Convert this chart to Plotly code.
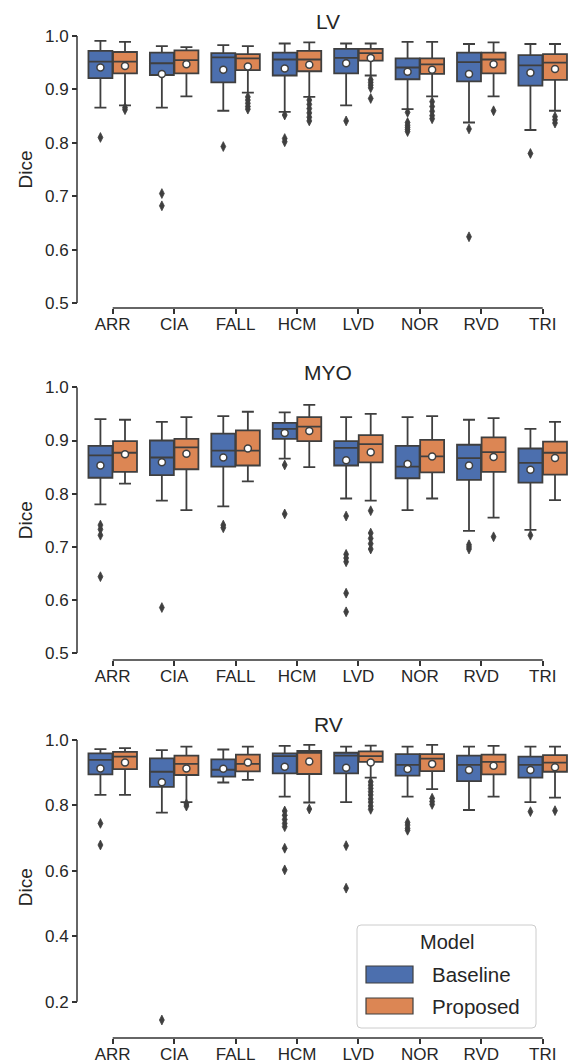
import plotly.graph_objects as go

# ---------------- data ----------------
CATEGORIES = ["ARR", "CIA", "FALL", "HCM", "LVD", "NOR", "RVD", "TRI"]
MODELS = ["Baseline", "Proposed"]

# LV
lv_base_upper = [0.991, 0.981, 0.983, 0.986, 0.986, 0.989, 0.985, 0.985]
lv_base_q3 = [0.972, 0.969, 0.968, 0.969, 0.976, 0.958, 0.969, 0.964]
lv_base_med = [0.952, 0.949, 0.960, 0.956, 0.959, 0.941, 0.951, 0.945]
lv_base_q1 = [0.921, 0.927, 0.913, 0.926, 0.930, 0.919, 0.915, 0.907]
lv_base_lower = [0.866, 0.866, 0.860, 0.858, 0.870, 0.863, 0.838, 0.824]
lv_base_mean = [0.941, 0.929, 0.937, 0.939, 0.949, 0.933, 0.929, 0.931]
lv_base_out = [[0.810], [0.705, 0.682], [0.793], [0.852, 0.808, 0.802], [0.841],
               [0.857, 0.838, 0.833, 0.829, 0.825, 0.821], [0.826, 0.624], [0.780]]

lv_prop_upper = [0.989, 0.979, 0.981, 0.988, 0.986, 0.989, 0.988, 0.985]
lv_prop_q3 = [0.970, 0.973, 0.966, 0.972, 0.976, 0.958, 0.969, 0.966]
lv_prop_med = [0.952, 0.955, 0.958, 0.956, 0.968, 0.947, 0.956, 0.950]
lv_prop_q1 = [0.930, 0.930, 0.936, 0.934, 0.954, 0.929, 0.930, 0.918]
lv_prop_lower = [0.870, 0.887, 0.894, 0.886, 0.926, 0.887, 0.887, 0.860]
lv_prop_mean = [0.944, 0.947, 0.943, 0.946, 0.959, 0.937, 0.947, 0.938]
lv_prop_out = [[0.866, 0.862], [], [0.886, 0.880, 0.874, 0.868, 0.863],
               [0.880, 0.872, 0.864, 0.856, 0.848, 0.841],
               [0.918, 0.913, 0.908, 0.903, 0.883],
               [0.877, 0.868, 0.859, 0.851, 0.845], [0.860], [0.849, 0.843, 0.837]]

# MYO
myo_base_upper = [0.940, 0.935, 0.946, 0.953, 0.944, 0.944, 0.939, 0.922]
myo_base_q3 = [0.890, 0.900, 0.913, 0.933, 0.899, 0.890, 0.892, 0.885]
myo_base_med = [0.872, 0.868, 0.881, 0.922, 0.886, 0.851, 0.867, 0.858]
myo_base_q1 = [0.830, 0.835, 0.851, 0.903, 0.853, 0.829, 0.826, 0.821]
myo_base_lower = [0.780, 0.787, 0.776, 0.866, 0.791, 0.769, 0.730, 0.732]
myo_base_mean = [0.853, 0.859, 0.868, 0.914, 0.863, 0.856, 0.853, 0.845]
myo_base_out = [[0.741, 0.733, 0.722, 0.644], [0.586], [0.741, 0.736], [0.854, 0.762],
                [0.758, 0.686, 0.679, 0.672, 0.613, 0.578], [], [0.704, 0.700, 0.696],
                [0.722]]

myo_prop_upper = [0.939, 0.944, 0.954, 0.967, 0.950, 0.946, 0.942, 0.935]
myo_prop_q3 = [0.899, 0.903, 0.919, 0.944, 0.910, 0.901, 0.906, 0.898]
myo_prop_med = [0.877, 0.887, 0.881, 0.926, 0.893, 0.870, 0.878, 0.877]
myo_prop_q1 = [0.841, 0.846, 0.853, 0.899, 0.859, 0.840, 0.841, 0.836]
myo_prop_lower = [0.819, 0.769, 0.823, 0.850, 0.787, 0.791, 0.755, 0.788]
myo_prop_mean = [0.874, 0.875, 0.885, 0.918, 0.878, 0.870, 0.869, 0.867]
myo_prop_out = [[], [], [], [], [0.768, 0.726, 0.716, 0.706, 0.696], [], [0.719], []]

# RV
rv_base_upper = [0.972, 0.969, 0.971, 0.982, 0.980, 0.980, 0.980, 0.980]
rv_base_q3 = [0.959, 0.944, 0.941, 0.959, 0.961, 0.957, 0.952, 0.949]
rv_base_med = [0.939, 0.903, 0.909, 0.951, 0.952, 0.924, 0.924, 0.924]
rv_base_q1 = [0.895, 0.857, 0.888, 0.898, 0.898, 0.891, 0.874, 0.885]
rv_base_lower = [0.832, 0.778, 0.870, 0.827, 0.810, 0.827, 0.786, 0.810]
rv_base_mean = [0.913, 0.871, 0.912, 0.918, 0.915, 0.911, 0.908, 0.908]
rv_base_out = [[0.745, 0.679], [0.144], [], [0.783, 0.770, 0.757, 0.745, 0.735, 0.669, 0.603],
               [0.677, 0.547], [0.748, 0.740, 0.730, 0.724], [], [0.781]]

rv_prop_upper = [0.975, 0.980, 0.980, 0.985, 0.983, 0.985, 0.982, 0.980]
rv_prop_q3 = [0.964, 0.952, 0.955, 0.967, 0.965, 0.957, 0.955, 0.954]
rv_prop_med = [0.949, 0.927, 0.927, 0.961, 0.951, 0.943, 0.933, 0.931]
rv_prop_q1 = [0.911, 0.893, 0.904, 0.896, 0.933, 0.905, 0.895, 0.903]
rv_prop_lower = [0.832, 0.810, 0.878, 0.809, 0.885, 0.850, 0.827, 0.824]
rv_prop_mean = [0.931, 0.913, 0.931, 0.934, 0.931, 0.927, 0.921, 0.917]
rv_prop_out = [[], [0.805, 0.798], [], [0.789],
               [0.872, 0.862, 0.852, 0.842, 0.832, 0.820, 0.810, 0.798, 0.788],
               [0.822, 0.812, 0.803], [], [0.784]]

LV_TICKS = [0.5, 0.6, 0.7, 0.8, 0.9, 1.0]
MYO_TICKS = [0.5, 0.6, 0.7, 0.8, 0.9, 1.0]
RV_TICKS = [0.2, 0.4, 0.6, 0.8, 1.0]

# ---------------- style / layout ----------------
W, H = 568, 1063
FONT = "Arial, Liberation Sans, sans-serif"
COLORS = ["#4c6fae", "#dc8654"]
EDGE = "#3f3f3f"
SPINE = "#333333"
TEXT = "#262626"


def px(x):
    return x / W


def py(y):
    return 1 - y / H


panels = [
    dict(title="LV", top=36.0, bottom=303.0, rng=[0.5, 1.0], spine=308.0, title_y=21.5,
         ticks=LV_TICKS,
         stats=[(lv_base_q1, lv_base_med, lv_base_q3, lv_base_lower, lv_base_upper, lv_base_mean, lv_base_out),
                (lv_prop_q1, lv_prop_med, lv_prop_q3, lv_prop_lower, lv_prop_upper, lv_prop_mean, lv_prop_out)]),
    dict(title="MYO", top=387.3, bottom=653.3, rng=[0.5, 1.0], spine=660.0, title_y=372.0,
         ticks=MYO_TICKS,
         stats=[(myo_base_q1, myo_base_med, myo_base_q3, myo_base_lower, myo_base_upper, myo_base_mean, myo_base_out),
                (myo_prop_q1, myo_prop_med, myo_prop_q3, myo_prop_lower, myo_prop_upper, myo_prop_mean, myo_prop_out)]),
    dict(title="RV", top=740.0, bottom=1034.4, rng=[0.1, 1.0], spine=1038.0, title_y=724.0,
         ticks=RV_TICKS,
         stats=[(rv_base_q1, rv_base_med, rv_base_q3, rv_base_lower, rv_base_upper, rv_base_mean, rv_base_out),
                (rv_prop_q1, rv_prop_med, rv_prop_q3, rv_prop_lower, rv_prop_upper, rv_prop_mean, rv_prop_out)]),
]

OFFSETS = [-0.2, 0.2]
BOX_W = 0.39
X_LEFT_PX = 82.0
Y_SPINE_X_PX = 77.0

fig = go.Figure()
layout = dict(
    width=W, height=H, margin=dict(l=0, r=0, t=0, b=0),
    paper_bgcolor="white", plot_bgcolor="white",
    showlegend=False, font=dict(family=FONT, color=TEXT),
)
shapes = []
annotations = []
positions = list(range(len(CATEGORIES)))

for k, p in enumerate(panels):
    sfx = "" if k == 0 else str(k + 1)
    xa, ya = "x" + sfx, "y" + sfx
    for m, model in enumerate(MODELS):
        q1, med, q3, lo, up, mean, outs = p["stats"][m]
        xs = [i + OFFSETS[m] for i in positions]
        fig.add_trace(go.Box(
            x=xs, q1=q1, median=med, q3=q3, lowerfence=lo, upperfence=up,
            orientation="v", width=BOX_W, whiskerwidth=0.5, boxpoints=False,
            fillcolor=COLORS[m], line=dict(color=EDGE, width=1.8),
            name=model, xaxis=xa, yaxis=ya, showlegend=False, hoverinfo="skip",
        ))
        ox, oy = [], []
        for i, vals in zip(positions, outs):
            for v in vals:
                ox.append(i + OFFSETS[m])
                oy.append(v)
        fig.add_trace(go.Scatter(
            x=ox, y=oy, mode="markers", xaxis=xa, yaxis=ya, showlegend=False,
            marker=dict(symbol="diamond-tall", size=7, color=EDGE, line=dict(width=0.8, color=EDGE)),
            hoverinfo="skip", cliponaxis=False,
        ))
        fig.add_trace(go.Scatter(
            x=xs, y=mean, mode="markers", xaxis=xa, yaxis=ya, showlegend=False,
            marker=dict(symbol="circle", size=7, color="white", line=dict(color=EDGE, width=1.5)),
            hoverinfo="skip",
        ))

    xr = [-0.5, -0.5 + (W - X_LEFT_PX) / ((543 - 113) / 7.0)]
    layout["xaxis" + sfx] = dict(
        domain=[px(X_LEFT_PX), 1.0], range=xr, type="linear",
        anchor="free", position=py(p["spine"]),
        tickmode="array", tickvals=positions, ticktext=CATEGORIES,
        ticks="outside", ticklen=5, tickwidth=1.5, tickcolor=SPINE,
        ticklabelstandoff=-4,
        showline=False, showgrid=False, zeroline=False, automargin=False,
        tickfont=dict(family=FONT, size=17, color=TEXT),
    )
    layout["yaxis" + sfx] = dict(
        domain=[py(p["bottom"]), py(p["top"])],
        range=p["rng"],
        anchor="free", position=px(Y_SPINE_X_PX),
        tickmode="array", tickvals=p["ticks"], tickformat=".1f",
        ticks="outside", ticklen=5, tickwidth=1.5, tickcolor=SPINE,
        showline=False, showgrid=False, zeroline=False, automargin=False,
        tickfont=dict(family=FONT, size=17, color=TEXT),
    )
    # trimmed spines
    shapes.append(dict(type="line", xref=xa, yref="paper", x0=positions[0], x1=positions[-1],
                       y0=py(p["spine"]), y1=py(p["spine"]), line=dict(color=SPINE, width=1.5)))
    shapes.append(dict(type="line", xref="paper", yref=ya, x0=px(Y_SPINE_X_PX), x1=px(Y_SPINE_X_PX),
                       y0=p["ticks"][0], y1=p["ticks"][-1], line=dict(color=SPINE, width=1.5)))
    annotations.append(dict(text=p["title"], xref="paper", yref="paper", x=px(328), y=py(p["title_y"]),
                            xanchor="center", yanchor="middle", showarrow=False,
                            font=dict(family=FONT, size=21, color=TEXT)))
    annotations.append(dict(text="Dice", xref="paper", yref="paper", x=px(25),
                            y=py((p["top"] + p["bottom"]) / 2), textangle=-90,
                            xanchor="center", yanchor="middle", showarrow=False,
                            font=dict(family=FONT, size=19, color=TEXT)))

# ---------------- legend (drawn manually) ----------------
lx0, lx1, ly0, ly1, r = 357, 536, 925, 1028, 4
path = (f"M {px(lx0 + r)},{py(ly0)} L {px(lx1 - r)},{py(ly0)} Q {px(lx1)},{py(ly0)} {px(lx1)},{py(ly0 + r)} "
        f"L {px(lx1)},{py(ly1 - r)} Q {px(lx1)},{py(ly1)} {px(lx1 - r)},{py(ly1)} "
        f"L {px(lx0 + r)},{py(ly1)} Q {px(lx0)},{py(ly1)} {px(lx0)},{py(ly1 - r)} "
        f"L {px(lx0)},{py(ly0 + r)} Q {px(lx0)},{py(ly0)} {px(lx0 + r)},{py(ly0)} Z")
shapes.append(dict(type="path", xref="paper", yref="paper", path=path,
                   fillcolor="rgba(255,255,255,0.85)", line=dict(color="#cccccc", width=1), layer="above"))
annotations.append(dict(text="Model", xref="paper", yref="paper", x=px(447), y=py(942),
                        xanchor="center", yanchor="middle", showarrow=False,
                        font=dict(family=FONT, size=20, color=TEXT)))
patch_rows = [(966, 983), (998, 1014)]
for m, model in enumerate(MODELS):
    t, b = patch_rows[m]
    shapes.append(dict(type="rect", xref="paper", yref="paper", x0=px(366), x1=px(413),
                       y0=py(b), y1=py(t), fillcolor=COLORS[m], line=dict(color=EDGE, width=1.2),
                       layer="above"))
    annotations.append(dict(text=model, xref="paper", yref="paper", x=px(430), y=py((t + b) / 2),
                            xanchor="left", yanchor="middle", showarrow=False,
                            font=dict(family=FONT, size=20.5, color=TEXT)))

layout["shapes"] = shapes
layout["annotations"] = annotations
fig.update_layout(**layout)
fig.write_html("out.html")
